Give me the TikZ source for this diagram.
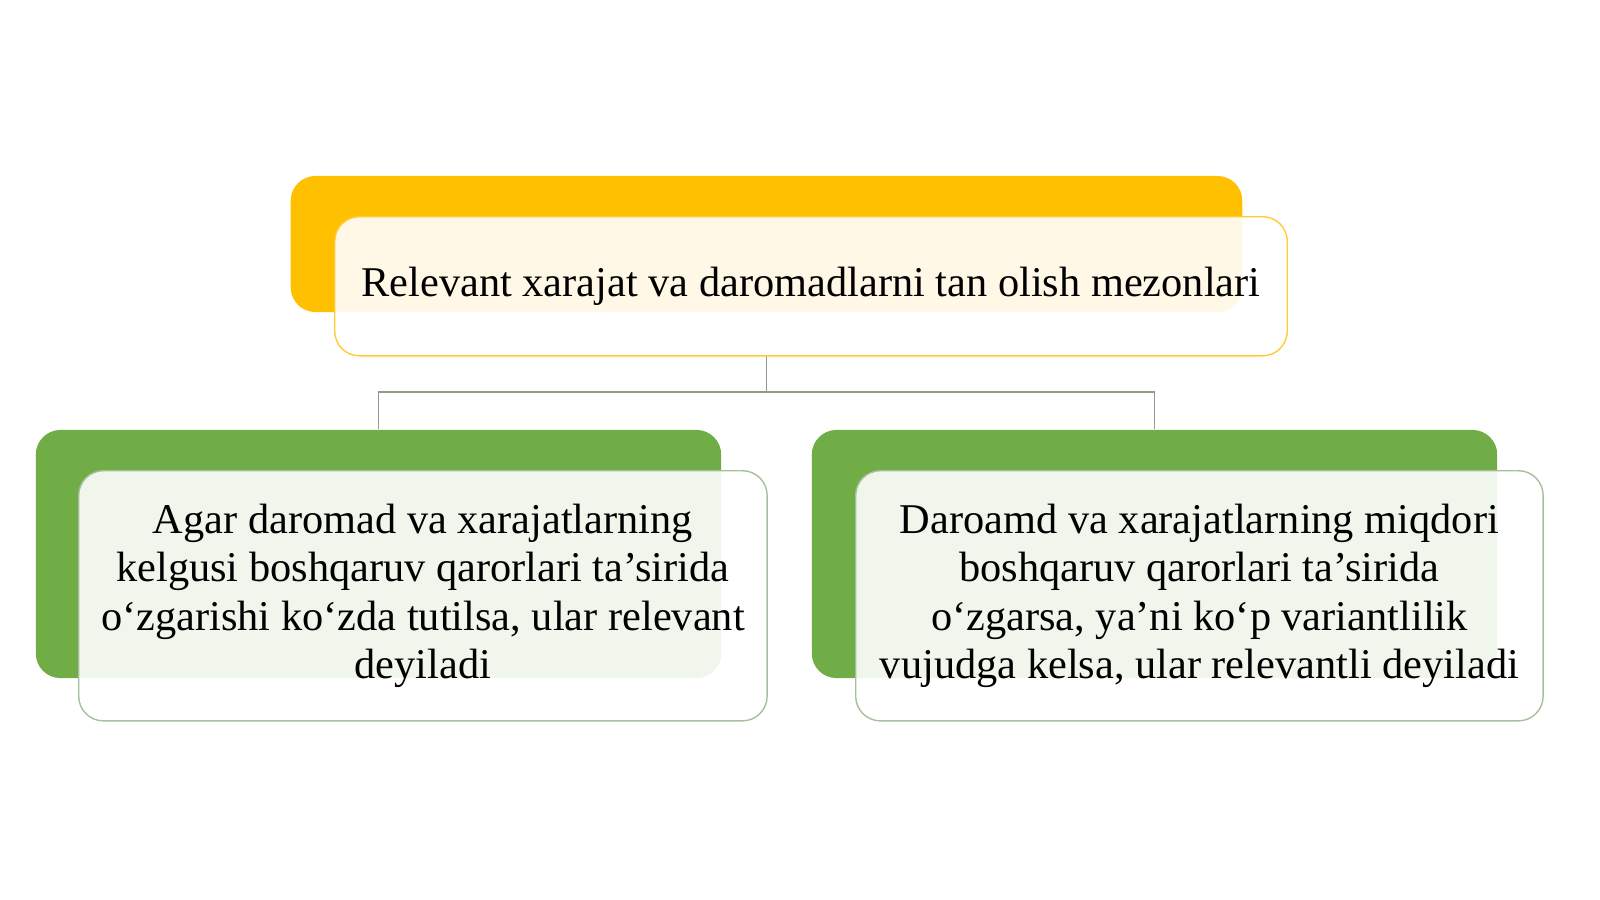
\documentclass[tikz,border=0pt]{standalone}
\usepackage{fontspec}
\setmainfont{Liberation Serif}
\usetikzlibrary{positioning}
\definecolor{goldbar}{HTML}{FFC000}
\definecolor{goldedge}{HTML}{FFCC33}
\definecolor{leafbar}{HTML}{70AD47}
\definecolor{leafedge}{HTML}{A8BF9C}
\definecolor{linkgray}{HTML}{8C9C88}
\tikzset{
  backbox/.style={rounded corners=7pt, inner sep=0pt},
  frontbox/.style={rounded corners=7pt, fill=white, fill opacity=.9, text opacity=1,
    align=center, inner sep=0pt, font=\fontsize{12.05}{13.7}\selectfont},
  link/.style={draw=linkgray, thin}
}

\begin{document}
\begin{tikzpicture}[x=0.01cm, y=-0.01cm]
    \useasboundingbox (0,0) rectangle (1600,899);
    % back plates
    \node [backbox, fill=goldbar, minimum width=9.51cm, minimum height=1.36cm] (topback) at (766.5,244) {};
    \node [backbox, fill=leafbar, minimum width=6.85cm, minimum height=2.48cm] (leftback) at (378.5,554) {};
    \node [backbox, fill=leafbar, minimum width=6.85cm, minimum height=2.48cm] (rightback) at (1154.5,554) {};
    % connectors
    \coordinate (topfoot) at (766.5,355);
    \draw [link] (topfoot) -- (766.5,392) -| (leftback.north);
    \draw [link] (topfoot) -- (766.5,392) -| (rightback.north);
    % front boxes
    \node [frontbox, draw=goldedge, minimum width=9.52cm, minimum height=1.39cm, anchor=north west]
      (topfront) at (334,216) {Relevant xarajat va daromadlarni tan olish mezonlari};
    \node [frontbox, draw=leafedge, minimum width=6.88cm, minimum height=2.5cm, anchor=north west]
      (leftfront) at (78,470) {Agar daromad va xarajatlarning\\ kelgusi boshqaruv qarorlari ta’sirida\\ o‘zgarishi ko‘zda tutilsa, ular relevant\\ deyiladi};
    \node [frontbox, draw=leafedge, minimum width=6.87cm, minimum height=2.5cm, anchor=north west]
      (rightfront) at (855,470) {Daroamd va xarajatlarning miqdori\\ boshqaruv qarorlari ta’sirida\\ o‘zgarsa, ya’ni ko‘p variantlilik\\ vujudga kelsa, ular relevantli deyiladi};
  \end{tikzpicture}
\end{document}
